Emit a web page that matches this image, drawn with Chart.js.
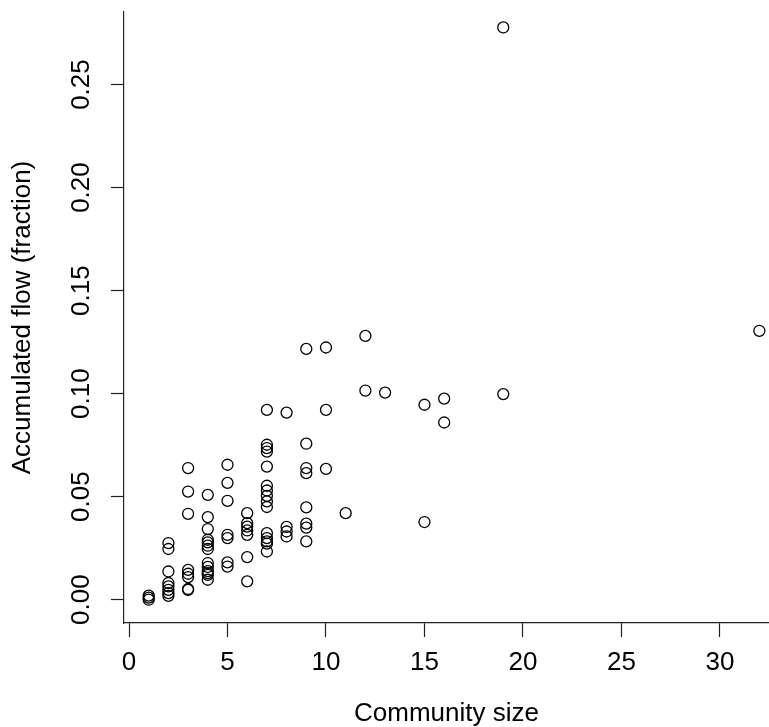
<!DOCTYPE html>
<html>
<head>
<meta charset="utf-8">
<script src="https://cdn.jsdelivr.net/npm/chart.js@4/dist/chart.umd.min.js"></script>
<style>
  html, body { margin: 0; padding: 0; background: #fff; }
  canvas { display: block; }
</style>
</head>
<body>
<canvas id="flow-chart" width="769" height="727"></canvas>
<script>
// --- Data ---
const communitySize = [
    1, 1, 1,
    2, 2, 2, 2, 2, 2, 2, 2,
    3, 3, 3, 3, 3, 3, 3, 3,
    4, 4, 4, 4, 4, 4, 4, 4, 4, 4, 4, 4, 4,
    5, 5, 5, 5, 5, 5, 5,
    6, 6, 6, 6, 6, 6, 6,
    7, 7, 7, 7, 7, 7, 7, 7, 7, 7, 7, 7, 7, 7, 7,
    8, 8, 8, 8,
    9, 9, 9, 9, 9, 9, 9, 9,
    10, 10, 10,
    11,
    12, 12,
    13,
    15, 15,
    16, 16,
    19, 19,
    32
];
const accumulatedFlow = [
    0.0000, 0.0010, 0.0020,
    0.0275, 0.0246, 0.0137, 0.0081, 0.0065, 0.0048, 0.0032, 0.0019,
    0.0639, 0.0525, 0.0417, 0.0145, 0.0126, 0.0110, 0.0052, 0.0048,
    0.0509, 0.0401, 0.0343, 0.0291, 0.0278, 0.0262, 0.0246, 0.0178, 0.0159, 0.0139, 0.0121, 0.0129, 0.0097,
    0.0655, 0.0567, 0.0480, 0.0315, 0.0299, 0.0181, 0.0161,
    0.0420, 0.0372, 0.0355, 0.0336, 0.0315, 0.0207, 0.0089,
    0.0921, 0.0752, 0.0736, 0.0719, 0.0646, 0.0553, 0.0530, 0.0504, 0.0477, 0.0450, 0.0323, 0.0299, 0.0283, 0.0272, 0.0234,
    0.0908, 0.0353, 0.0331, 0.0307,
    0.1217, 0.0757, 0.0639, 0.0614, 0.0448, 0.0369, 0.0350, 0.0283,
    0.1224, 0.0921, 0.0635,
    0.0420,
    0.1280, 0.1015,
    0.1005,
    0.0946, 0.0377,
    0.0976, 0.0860,
    0.2777, 0.0998,
    0.1305
];
const xTickStep = 5;
const yTickStep = 0.05;

const FONT = '"Liberation Sans", Arial, Helvetica, sans-serif';

// y tick labels are drawn rotated (parallel to the axis), like base R
const rotatedYLabels = {
    id: 'rotatedYLabels',
    afterDraw(chart) {
        const scale = chart.scales.y;
        const ctx = chart.ctx;
        ctx.save();
        ctx.fillStyle = '#000';
        ctx.font = '26px ' + FONT;
        ctx.textAlign = 'center';
        ctx.textBaseline = 'middle';
        scale.ticks.forEach(tick => {
            const py = scale.getPixelForValue(tick.value);
            ctx.save();
            ctx.translate(chart.chartArea.left - 42, py);
            ctx.rotate(-Math.PI / 2);
            ctx.fillText(tick.value.toFixed(2), 0, 0);
            ctx.restore();
        });
        ctx.restore();
    }
};

const points = communitySize.map((size, i) => ({ x: size, y: accumulatedFlow[i] }));

new Chart(document.getElementById('flow-chart').getContext('2d'), {
    type: 'scatter',
    data: {
        datasets: [{
            data: points,
            pointStyle: 'circle',
            pointRadius: 5.5,
            pointHoverRadius: 5.5,
            borderWidth: 1.3,
            borderColor: '#000',
            backgroundColor: 'rgba(0,0,0,0)'
        }]
    },
    options: {
        responsive: false,
        animation: false,
        events: [],
        layout: { autoPadding: false, padding: { top: 12, right: 0, left: 0, bottom: 0 } },
        plugins: {
            legend: { display: false },
            tooltip: { enabled: false }
        },
        scales: {
            x: {
                type: 'linear',
                min: -0.254,
                max: 32.49,
                afterFit: (scale) => { scale.height = 104; },
                border: { display: true, color: '#222', width: 1.2 },
                grid: { drawOnChartArea: false, drawTicks: true, tickLength: 14, tickColor: '#222', tickWidth: 1.2 },
                ticks: {
                    stepSize: xTickStep,
                    includeBounds: false,
                    maxRotation: 0,
                    padding: 13,
                    color: '#000',
                    font: { family: FONT, size: 26, lineHeight: 1 }
                },
                title: {
                    display: true,
                    text: 'Community size',
                    color: '#000',
                    padding: { top: 0, bottom: 0 },
                    font: { family: FONT, size: 26, lineHeight: 1 }
                }
            },
            y: {
                type: 'linear',
                min: -0.0113,
                max: 0.2852,
                afterFit: (scale) => { scale.width = 124; },
                border: { display: true, color: '#222', width: 1.2 },
                grid: { drawOnChartArea: false, drawTicks: true, tickLength: 13, tickColor: '#222', tickWidth: 1.2 },
                ticks: {
                    stepSize: yTickStep,
                    includeBounds: false,
                    padding: 0,
                    color: 'rgba(0,0,0,0)',
                    font: { family: FONT, size: 2, lineHeight: 1 }
                },
                title: {
                    display: true,
                    text: 'Accumulated flow (fraction)',
                    color: '#000',
                    padding: { top: 10, bottom: 0 },
                    font: { family: FONT, size: 26, lineHeight: 1 }
                }
            }
        }
    },
    plugins: [rotatedYLabels]
});
</script>
</body>
</html>
